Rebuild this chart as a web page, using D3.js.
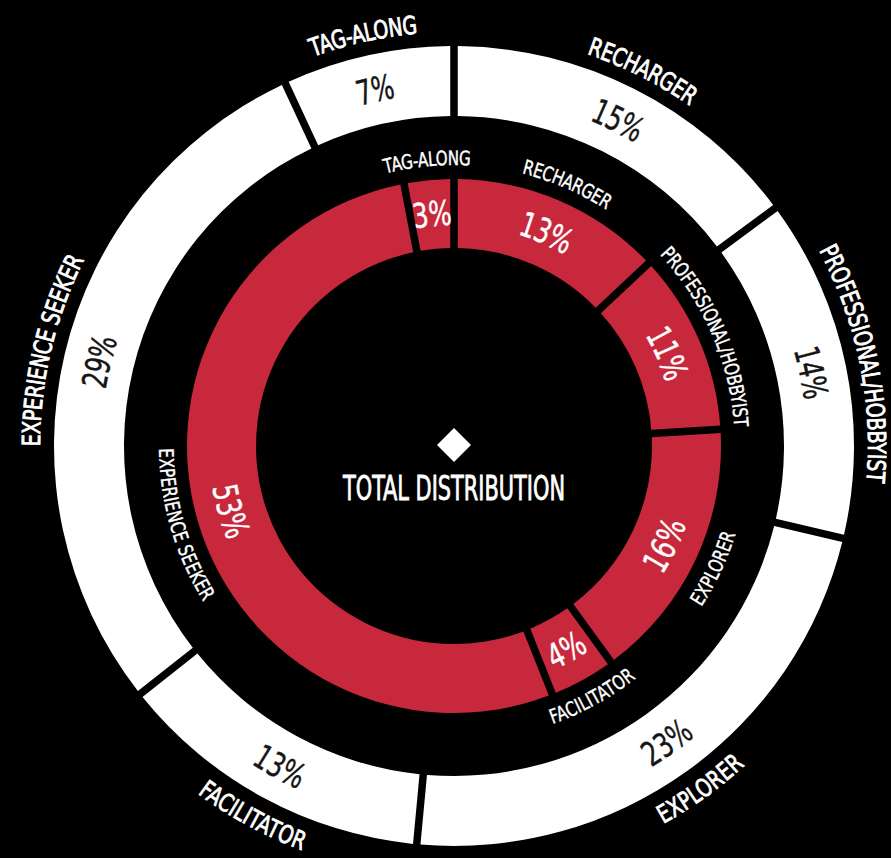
<!DOCTYPE html>
<html>
<head>
<meta charset="utf-8">
<script src="https://cdnjs.cloudflare.com/ajax/libs/d3/7.8.5/d3.min.js"></script>
<style>
body { margin: 0; background: #000; }
svg { display: block; }
</style>
</head>
<body>
<script>
/* segment order is clockwise from 12 o'clock */
var categories = ["RECHARGER", "PROFESSIONAL/HOBBYIST", "EXPLORER", "FACILITATOR", "EXPERIENCE SEEKER", "TAG-ALONG"]
var outerValues = [15, 14, 23, 13, 29, 7]   // white ring
var innerValues = [13, 11, 16, 4, 53, 3]    // red ring
var centerTitle = "TOTAL DISTRIBUTION"

var width = 891
var height = 858
var cx = 454
var cy = 446
var font = "'Liberation Sans Narrow', 'DejaVu Sans Condensed', 'Arial Narrow', sans-serif"

var svg = d3.select("body")
    .append("svg")
    .attr("width", width)
    .attr("height", height)

svg.append("rect")
    .attr("width", width)
    .attr("height", height)
    .attr("fill", "#000")

var g = svg.append("g")
    .attr("transform", "translate(" + cx + "," + cy + ")")

var pie = d3.pie()
    .sort(null)
    .value(function(d) { return d })

var pathCount = 0

function pt(a, r) {
    return [r * Math.sin(a), -r * Math.cos(a)]
}

/* text bent along a circle, flipped on the lower half so it stays readable */
function arcText(text, angle, r, size, thick, color, squeeze) {
    var flip = angle > Math.PI / 2 && angle < Math.PI * 1.5
    var span = 1.3
    var p0 = pt(flip ? angle + span : angle - span, r)
    var p1 = pt(flip ? angle - span : angle + span, r)
    var id = "tp" + (pathCount++)

    g.append("path")
        .attr("id", id)
        .attr("fill", "none")
        .attr("d", "M" + p0 + "A" + r + "," + r + " 0 0 " + (flip ? 0 : 1) + " " + p1)

    var t = g.append("text")
        .attr("font-family", font)
        .attr("font-size", size)
        .attr("fill", color)
        .attr("stroke", color)
        .attr("stroke-width", thick)
        .attr("dominant-baseline", "central")

    var tp = t.append("textPath")
        .attr("href", "#" + id)
        .attr("startOffset", "50%")
        .attr("text-anchor", "middle")
        .text(text)

    var len = t.node().getComputedTextLength()
    tp.attr("textLength", len * squeeze)
        .attr("lengthAdjust", "spacingAndGlyphs")
}

function drawRing(values, r0, r1, fill) {
    var arc = d3.arc()
        .innerRadius(r0)
        .outerRadius(r1)
        .padRadius(100)
        .padAngle(0.075)

    var slices = pie(values)

    g.append("g")
        .selectAll("path")
        .data(slices)
        .enter()
        .append("path")
        .attr("d", arc)
        .attr("fill", fill)

    return slices
}

function mid(d) {
    return (d.startAngle + d.endAngle) / 2
}

var outer = drawRing(outerValues, 330, 400, "#ffffff")
var inner = drawRing(innerValues, 198, 267, "#c8283c")

outer.forEach(function(d, i) {
    arcText(d.value + "%", mid(d), 365, 34, 0.4, "#151515", 0.78)
    arcText(categories[i], mid(d), 423, 25, 0.8, "#ffffff", 0.84)
})

inner.forEach(function(d, i) {
    arcText(d.value + "%", mid(d), 233, 34, 0.4, "#ffffff", 0.8)
    arcText(categories[i], mid(d), 288, 20, 0.4, "#ffffff", 0.84)
})

/* centre marker and title */
g.append("rect")
    .attr("x", -12)
    .attr("y", -12)
    .attr("width", 24)
    .attr("height", 24)
    .attr("fill", "#ffffff")
    .attr("transform", "translate(0,-1) rotate(45)")

g.append("text")
    .attr("x", 0)
    .attr("y", 54)
    .attr("text-anchor", "middle")
    .attr("font-family", font)
    .attr("font-size", 33)
    .attr("fill", "#ffffff")
    .attr("stroke", "#ffffff")
    .attr("stroke-width", 0.8)
    .attr("textLength", 222)
    .attr("lengthAdjust", "spacingAndGlyphs")
    .text(centerTitle)
</script>
</body>
</html>
